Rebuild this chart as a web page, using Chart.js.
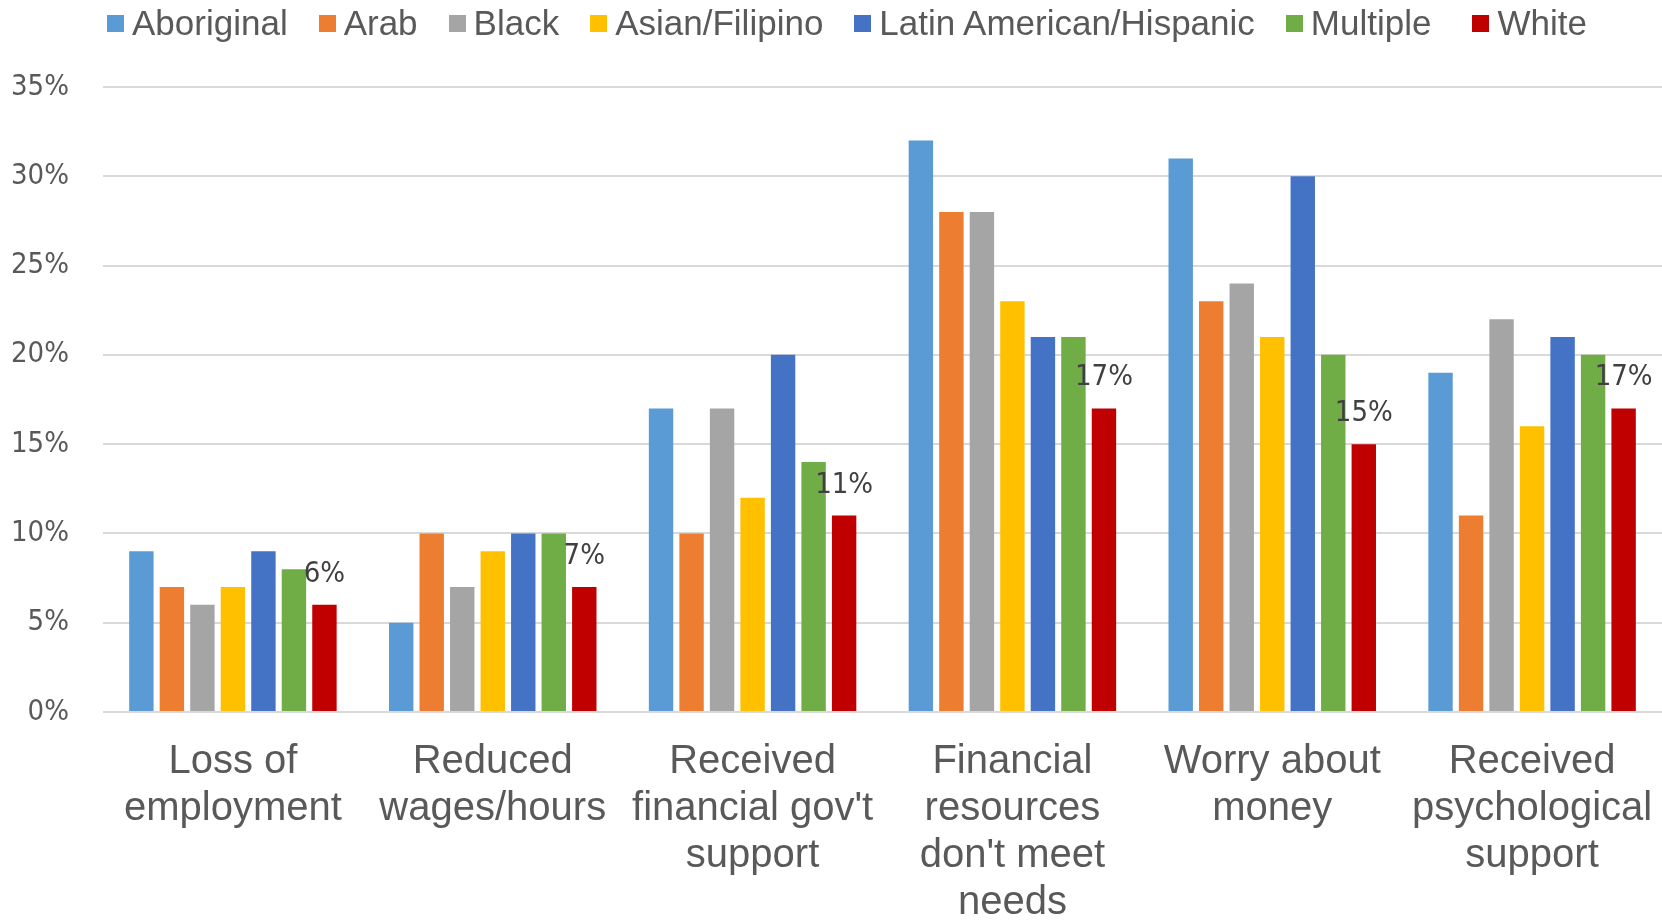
<!DOCTYPE html>
<html>
<head>
<meta charset="utf-8">
<title>Financial impacts by group</title>
<script src="https://cdn.jsdelivr.net/npm/chart.js@4.4.1/dist/chart.umd.min.js"></script>
<style>
  html, body { margin: 0; padding: 0; background: #fff; }
  #wrap { position: relative; width: 1662px; height: 921px; }
  #legend {
    position: absolute; top: 0; left: 107px; height: 46px;
    display: flex; align-items: center;
    font-family: "Liberation Sans", Arial, sans-serif; font-size: 35px; color: #595959;
  }
  #legend .item { display: flex; align-items: center; margin-right: 31px; white-space: nowrap; }
  #legend .item:nth-child(6) { margin-right: 41px; }
  #legend .box { width: 17px; height: 17px; margin-right: 8px; }
</style>
</head>
<body>
<div id="wrap">
  <canvas id="chart" width="1662" height="921"></canvas>
  <div id="legend"></div>
</div>
<script>
// Categories (multi-line axis labels)
const categories = [
  ['Loss of', 'employment'],
  ['Reduced', 'wages/hours'],
  ['Received', "financial gov't", 'support'],
  ['Financial', 'resources', "don't meet", 'needs'],
  ['Worry about', 'money'],
  ['Received', 'psychological', 'support']
];

// Percent of respondents per group
const aboriginal = [9, 5, 17, 32, 31, 19];
const arab       = [7, 10, 10, 28, 23, 11];
const black      = [6, 7, 17, 28, 24, 22];
const asian      = [7, 9, 12, 23, 21, 16];
const latin      = [9, 10, 20, 21, 30, 21];
const multiple   = [8, 10, 14, 21, 20, 20];
const white      = [6, 7, 11, 17, 15, 17];

const yTicks = [0, 5, 10, 15, 20, 25, 30, 35];

const series = [
  { label: 'Aboriginal', data: aboriginal, color: '#5B9BD5' },
  { label: 'Arab', data: arab, color: '#ED7D31' },
  { label: 'Black', data: black, color: '#A5A5A5' },
  { label: 'Asian/Filipino', data: asian, color: '#FFC000' },
  { label: 'Latin American/Hispanic', data: latin, color: '#4472C4' },
  { label: 'Multiple', data: multiple, color: '#70AD47' },
  { label: 'White', data: white, color: '#C00000', showLabels: true }
];

const tickFont = '"DejaVu Sans Condensed", "DejaVu Sans", sans-serif';

// Value labels above the bars of flagged datasets
const barLabels = {
  id: 'barLabels',
  afterDatasetsDraw(chart) {
    const ctx = chart.ctx;
    ctx.save();
    ctx.font = '29px ' + tickFont;
    ctx.fillStyle = '#404040';
    ctx.textAlign = 'center';
    ctx.textBaseline = 'alphabetic';
    chart.data.datasets.forEach((ds, i) => {
      if (!ds.showLabels) return;
      chart.getDatasetMeta(i).data.forEach((bar, j) => {
        ctx.fillText(ds.data[j] + '%', bar.x, bar.y - 23);
      });
    });
    ctx.restore();
  }
};

// Build the legend as html from the chart's own legend items
const htmlLegend = {
  id: 'htmlLegend',
  afterUpdate(chart) {
    const box = document.getElementById('legend');
    box.innerHTML = '';
    chart.options.plugins.legend.labels.generateLabels(chart).forEach(item => {
      const el = document.createElement('div');
      el.className = 'item';
      el.innerHTML = `<span class="box" style="background:${item.fillStyle}"></span>${item.text}`;
      box.appendChild(el);
    });
  }
};

new Chart(document.getElementById('chart'), {
  type: 'bar',
  data: {
    labels: categories,
    datasets: series.map(s => ({
      label: s.label,
      data: s.data,
      backgroundColor: s.color,
      borderWidth: 0,
      showLabels: !!s.showLabels,
      categoryPercentage: 0.822,
      barPercentage: 0.8
    }))
  },
  options: {
    responsive: false,
    animation: false,
    layout: { padding: { top: 87, right: 0, left: 0, bottom: 0 } },
    plugins: {
      legend: { display: false },
      tooltip: { enabled: false }
    },
    scales: {
      x: {
        grid: { display: false, drawTicks: false },
        border: { display: false },
        ticks: {
          color: '#595959',
          padding: 27,
          maxRotation: 0,
          autoSkip: false,
          font: { family: '"Liberation Sans", Arial, sans-serif', size: 40, lineHeight: 1.17 }
        },
        afterFit(scale) {
          // plot runs to the right edge; labels fit inside their categories
          scale.height = 209;
          scale.paddingLeft = 0;
          scale.paddingRight = 0;
        }
      },
      y: {
        min: 0,
        max: 35,
        afterBuildTicks(scale) { scale.ticks = yTicks.map(v => ({ value: v })); },
        grid: { color: '#D9D9D9', lineWidth: 2, drawTicks: false },
        border: { display: false },
        ticks: {
          color: '#595959',
          padding: 34,
          font: { family: tickFont, size: 29 },
          callback: v => v + '%'
        },
        afterFit(scale) { scale.width = 103; }
      }
    }
  },
  plugins: [barLabels, htmlLegend]
});
</script>
</body>
</html>
